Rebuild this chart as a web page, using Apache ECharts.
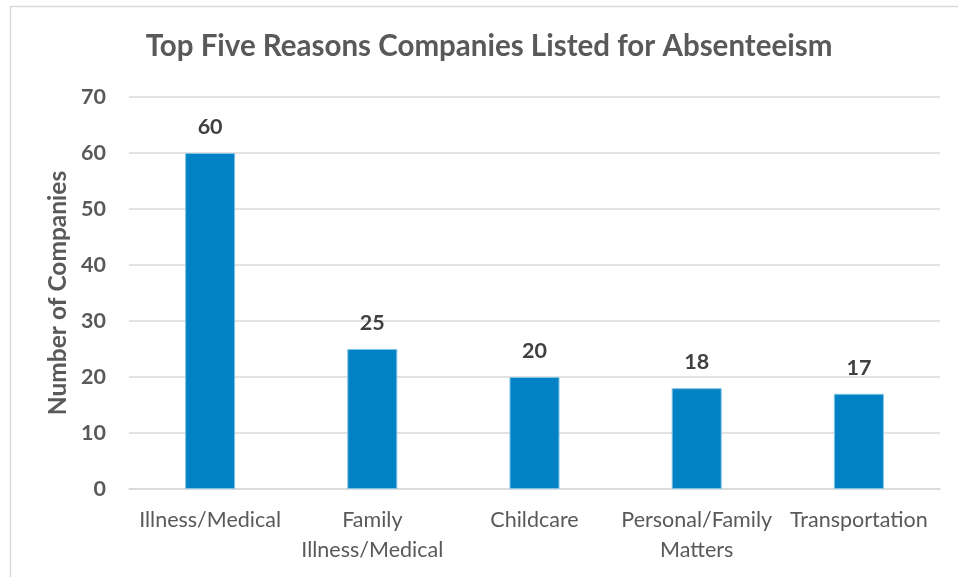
<!DOCTYPE html>
<html>
<head>
<meta charset="utf-8">
<script src="https://cdn.jsdelivr.net/npm/echarts@6/dist/echarts.min.js"></script>
<style>
  html, body { margin: 0; padding: 0; background: #ffffff; }
  #chart { width: 958px; height: 577px; }
</style>
</head>
<body>
<div id="chart"></div>
<script>
// Reasons given by companies for employee absenteeism
const categories = ['Illness/Medical', 'Family\nIllness/Medical', 'Childcare', 'Personal/Family\nMatters', 'Transportation'];
const companyCounts = [60, 25, 20, 18, 17];
const yTicks = { min: 0, max: 70, interval: 10 };

const chart = echarts.init(document.getElementById('chart'));
const fontFamily = 'Lato, "Open Sans", sans-serif';

chart.setOption({
  animation: false,
  backgroundColor: '#ffffff',
  textStyle: { fontFamily: fontFamily },
  title: {
    text: 'Top Five Reasons Companies Listed for Absenteeism',
    left: 484,
    textAlign: 'center',
    top: 26,
    textStyle: { fontFamily: fontFamily, fontSize: 29.5, fontWeight: 'bold', color: '#595959' }
  },
  graphic: [{
    type: 'rect',
    left: 8, top: 4,
    shape: { width: 1000, height: 600 },
    style: { fill: 'none', stroke: '#d9d9d9', lineWidth: 1.5 },
    silent: true
  }],
  grid: { left: 129, right: 18, top: 97, bottom: 88 },
  xAxis: {
    type: 'category',
    data: categories,
    axisLine: { show: true, lineStyle: { color: '#d9d9d9', width: 1.5 } },
    axisTick: { show: false },
    axisLabel: {
      color: '#595959', fontSize: 21.5, margin: 16, lineHeight: 30,
      fontFamily: fontFamily, interval: 0
    }
  },
  yAxis: {
    type: 'value',
    min: yTicks.min, max: yTicks.max, interval: yTicks.interval,
    name: 'Number of Companies',
    nameLocation: 'middle',
    nameGap: 57,
    nameTextStyle: { color: '#595959', fontSize: 24.5, fontWeight: 'bold', fontFamily: fontFamily },
    axisLine: { show: false },
    axisTick: { show: false },
    splitLine: { lineStyle: { color: '#d9d9d9', width: 1.5 } },
    axisLabel: { color: '#595959', fontSize: 21.5, fontWeight: 'bold', margin: 23, fontFamily: fontFamily }
  },
  series: [{
    type: 'bar',
    data: companyCounts,
    barWidth: 50,
    itemStyle: { color: '#0082c4', borderColor: '#7fc3e6', borderWidth: 1 },
    label: {
      show: true, position: 'top', distance: 15,
      color: '#404040', fontSize: 21.5, fontWeight: 'bold', fontFamily: fontFamily
    }
  }]
});
</script>
</body>
</html>
